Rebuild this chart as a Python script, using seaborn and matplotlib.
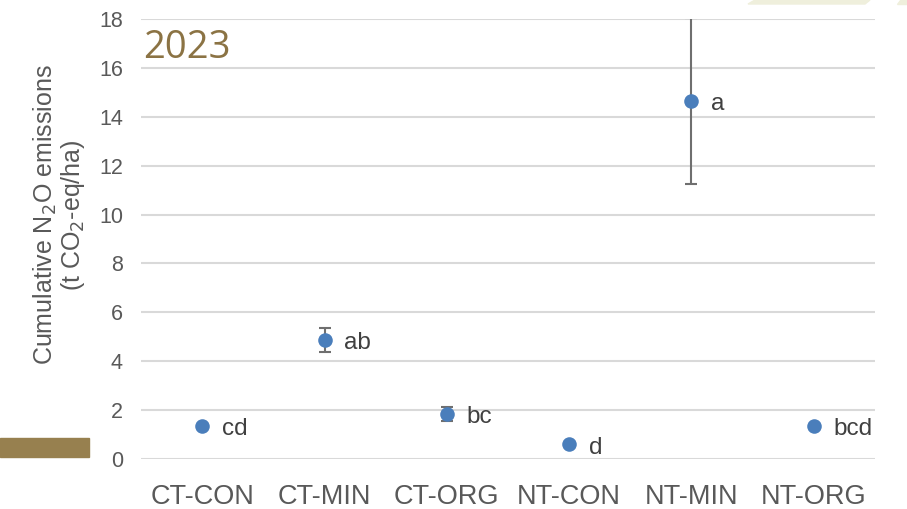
import matplotlib
matplotlib.use("Agg")
import matplotlib.pyplot as plt
import seaborn as sns
import pandas as pd
from matplotlib.patches import Polygon, Rectangle

categories = ["CT-CON", "CT-MIN", "CT-ORG", "NT-CON", "NT-MIN", "NT-ORG"]
means = [1.35, 4.87, 1.85, 0.61, 14.65, 1.35]
errors = [0.0, 0.5, 0.28, 0.0, 3.4, 0.0]
letters = ["cd", "ab", "bc", "d", "a", "bcd"]
yticks = [0, 2, 4, 6, 8, 10, 12, 14, 16, 18]
year = "2023"

df = pd.DataFrame({"treatment": categories, "mean": means, "err": errors, "letter": letters})
df["pos"] = range(len(categories))

sns.set_theme(style="white")
plt.rcParams['font.family'] = ['Liberation Sans', 'DejaVu Sans']

fig = plt.figure(figsize=(9.07, 5.09), dpi=100)
ax = fig.add_axes([141/907, 1 - 459/509, (875-141)/907, (459-19)/509])

blue = "#4A7EBB"
eb = df[df["err"] > 0]
ax.errorbar(eb["pos"], eb["mean"], yerr=eb["err"], fmt="none",
            ecolor="#6F6F6F", elinewidth=1.5, capsize=4, capthick=1.5, zorder=2)
sns.scatterplot(data=df, x="treatment", y="mean", ax=ax, color=blue, s=110,
                edgecolor=blue, linewidth=0, zorder=3, legend=False)

for i, (m, l) in enumerate(zip(means, letters)):
    ax.annotate(l, (i, m), xytext=(14, -2.5), textcoords="offset points",
                ha="left", va="center", fontsize=17.5, color="#404040")

ax.set_xlim(-0.5, len(categories) - 0.5)
ax.set_ylim(0, 18)
ax.set_yticks(yticks)
ax.set_yticklabels([str(t) for t in yticks])
ax.grid(axis="y", color="#D9D9D9", linewidth=1.5)
ax.grid(axis="x", visible=False)
for s in ax.spines.values():
    s.set_visible(False)
ax.tick_params(axis="y", labelsize=15.5, colors="#595959", length=0, pad=13)
ax.tick_params(axis="x", labelsize=19.5, colors="#595959", length=0, pad=18)
ax.set_xlabel("")
ax.set_ylabel("Cumulative N$_2$O emissions\n(t CO$_2$-eq/ha)", fontsize=18,
              color="#595959", linespacing=1.0)
ax.yaxis.set_label_coords(-0.074, 0.555)

fig.text(143/907, 1 - 48/509, year, fontsize=27.5, color="#8B7344",
         family=["Open Sans", "DejaVu Sans"], va="center", ha="left")

# decorative slide elements
fig.patches.append(Rectangle((0, 1 - 457/509), 89/907, 19/509,
                             transform=fig.transFigure, color="#97804F", zorder=0))
fig.patches.append(Polygon([[755/907, 1], [870/907, 1], [865/907, 1 - 4/509], [748/907, 1 - 4/509]],
                           closed=True, transform=fig.transFigure, color="#EFEFDC", zorder=0))
fig.patches.append(Polygon([[900/907, 1], [907/907, 1], [907/907, 1 - 4/509], [897/907, 1 - 4/509]],
                           closed=True, transform=fig.transFigure, color="#EFEFDC", zorder=0))

fig.savefig("out.png", dpi=100)
